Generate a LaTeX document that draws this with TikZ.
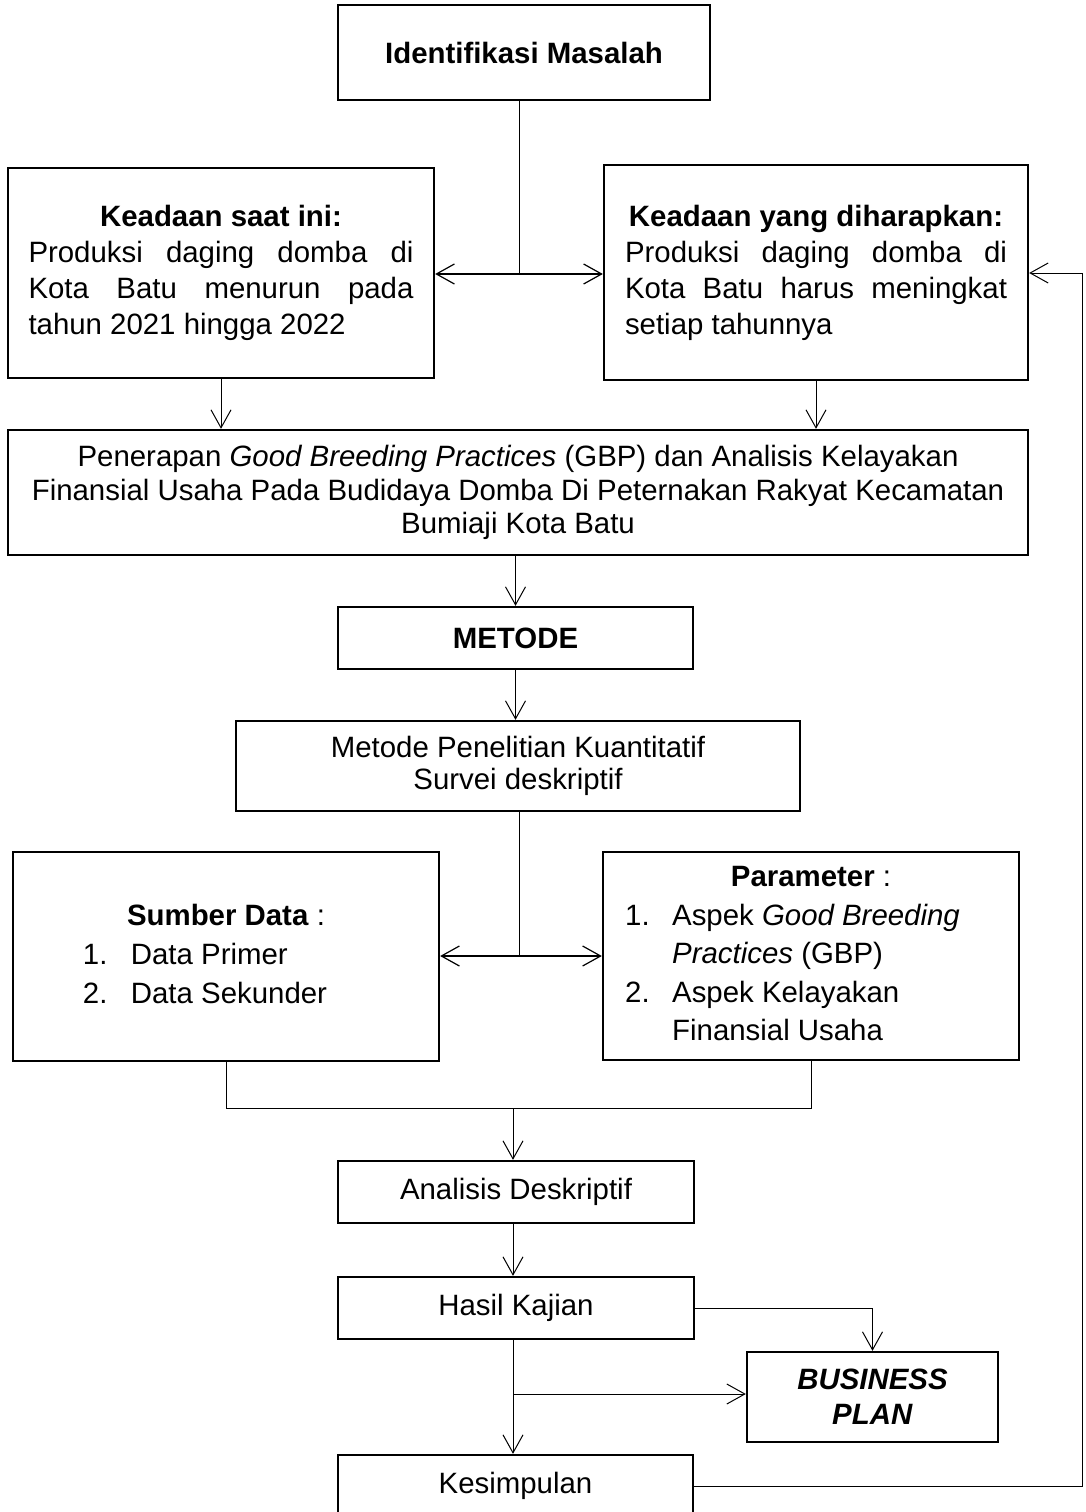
\documentclass[tikz,border=0pt]{standalone}
\usepackage{fontspec}
\setmainfont{Liberation Sans}
\usetikzlibrary{arrows.meta}
\tikzset{
    block/.style={draw, line width=2.3pt, inner sep=0pt, align=center, font=\fontsize{29.4}{36}\selectfont},
    arrow/.style={-{Straight Barb[length=18pt, width=20pt]}, line width=1pt},
    twoway/.style={{Straight Barb[length=18pt, width=20pt]}-{Straight Barb[length=18pt, width=20pt]}, line width=1.2pt},
    link/.style={line width=1pt}
}
\begin{document}
\begin{tikzpicture}[x=1pt, y=-1pt]
\useasboundingbox (0,0) rectangle (1085,1512);

% Problem and the two states
\node[block, minimum width=372pt, minimum height=95pt] (ident) at (524,52.5) {\textbf{Identifikasi Masalah}};
\node[block, minimum width=426pt, minimum height=210pt, text width=385pt, align=justify] (now) at (221,273) {%
    {\centering\textbf{Keadaan saat ini:}\par}
    Produksi daging domba di\linebreak Kota Batu menurun pada\linebreak tahun 2021 hingga 2022};
\node[block, minimum width=424pt, minimum height=215pt, text width=382pt, align=justify] (goal) at (816,272.5) {%
    {\centering\textbf{Keadaan yang diharapkan:}\par}
    Produksi daging domba di\linebreak Kota Batu harus meningkat\linebreak setiap tahunnya};

% Title and method
\node[block, minimum width=1020pt, minimum height=125pt, font=\fontsize{29.4}{33.5}\selectfont] (title) at (518,492.5) {Penerapan \textit{Good Breeding Practices} (GBP) dan Analisis Kelayakan\\Finansial Usaha Pada Budidaya Domba Di Peternakan Rakyat Kecamatan\\Bumiaji Kota Batu};
\node[block, minimum width=355pt, minimum height=62pt] (metode) at (515.5,638) {\textbf{METODE}};
\node[block, minimum width=564pt, minimum height=90pt, font=\fontsize{29.4}{32.5}\selectfont] (approach) at (518,766) {Metode Penelitian Kuantitatif\\Survei deskriptif};

% Data sources and parameters
\node[block, minimum width=426pt, minimum height=209pt, font=\fontsize{29.4}{39}\selectfont] (source) at (226,956.5) {%
    \begin{tabular}{@{}l@{\hspace{42pt}}}
    \multicolumn{1}{@{}c@{}}{\textbf{Sumber Data} :}\\
    \makebox[48pt][l]{1.}Data Primer\\
    \makebox[48pt][l]{2.}Data Sekunder
    \end{tabular}};
\node[block, minimum width=416pt, minimum height=208pt, font=\fontsize{29.4}{38.5}\selectfont] (param) at (811,956) {%
    \begin{tabular}{@{}l@{\hspace{37pt}}}
    \multicolumn{1}{@{}c@{}}{\textbf{Parameter} :}\\
    \makebox[47pt][l]{1.}Aspek \textit{Good Breeding}\\
    \hspace*{47pt}\textit{Practices} (GBP)\\
    \makebox[47pt][l]{2.}Aspek Kelayakan\\
    \hspace*{47pt}Finansial Usaha
    \end{tabular}};

% Analysis, results and outputs
\node[block, minimum width=356pt, minimum height=62pt] (analysis) at (516,1192) {Analisis Deskriptif};
\node[block, minimum width=356pt, minimum height=62pt] (result) at (516,1308) {Hasil Kajian};
\node[block, minimum width=251pt, minimum height=90pt, font=\fontsize{29.4}{35}\selectfont] (plan) at (872.5,1397) {\textbf{\textit{BUSINESS}}\\\textbf{\textit{PLAN}}};
\node[block, minimum width=355pt, minimum height=62pt] (concl) at (515.5,1486) {Kesimpulan};

% Junction points
\coordinate (jTop) at (519,274);
\coordinate (jMid) at (519,956);
\coordinate (jLow) at (513,1108);
\coordinate (jPlan) at (513,1394);
\coordinate (jLoop) at (1082,273);

% Connections
\draw[link] (ident.south -| jTop) -- (jTop);
\draw[twoway] (now.east |- jTop) -- (goal.west |- jTop);
\draw[arrow] (now.south) -- (now.south |- title.north);
\draw[arrow] (goal.south) -- (goal.south |- title.north);
\draw[arrow] (title.south -| metode.north) -- (metode.north);
\draw[arrow] (metode.south) -- (metode.south |- approach.north);
\draw[link] (approach.south -| jMid) -- (jMid);
\draw[twoway] (source.east |- jMid) -- (param.west |- jMid);
\draw[link] (source.south) -- (source.south |- jLow) -- (param.south |- jLow) -- (param.south);
\draw[arrow] (jLow) -- (analysis.north -| jLow);
\draw[arrow] (analysis.south -| jLow) -- (result.north -| jLow);
\draw[arrow] (result.east) -| (plan.north);
\draw[arrow] (result.south -| jPlan) -- (concl.north -| jPlan);
\draw[arrow] (jPlan) -- (plan.west |- jPlan);
\draw[arrow] (concl.east) -| (jLoop) -- (goal.east |- jLoop);
\end{tikzpicture}
\end{document}
